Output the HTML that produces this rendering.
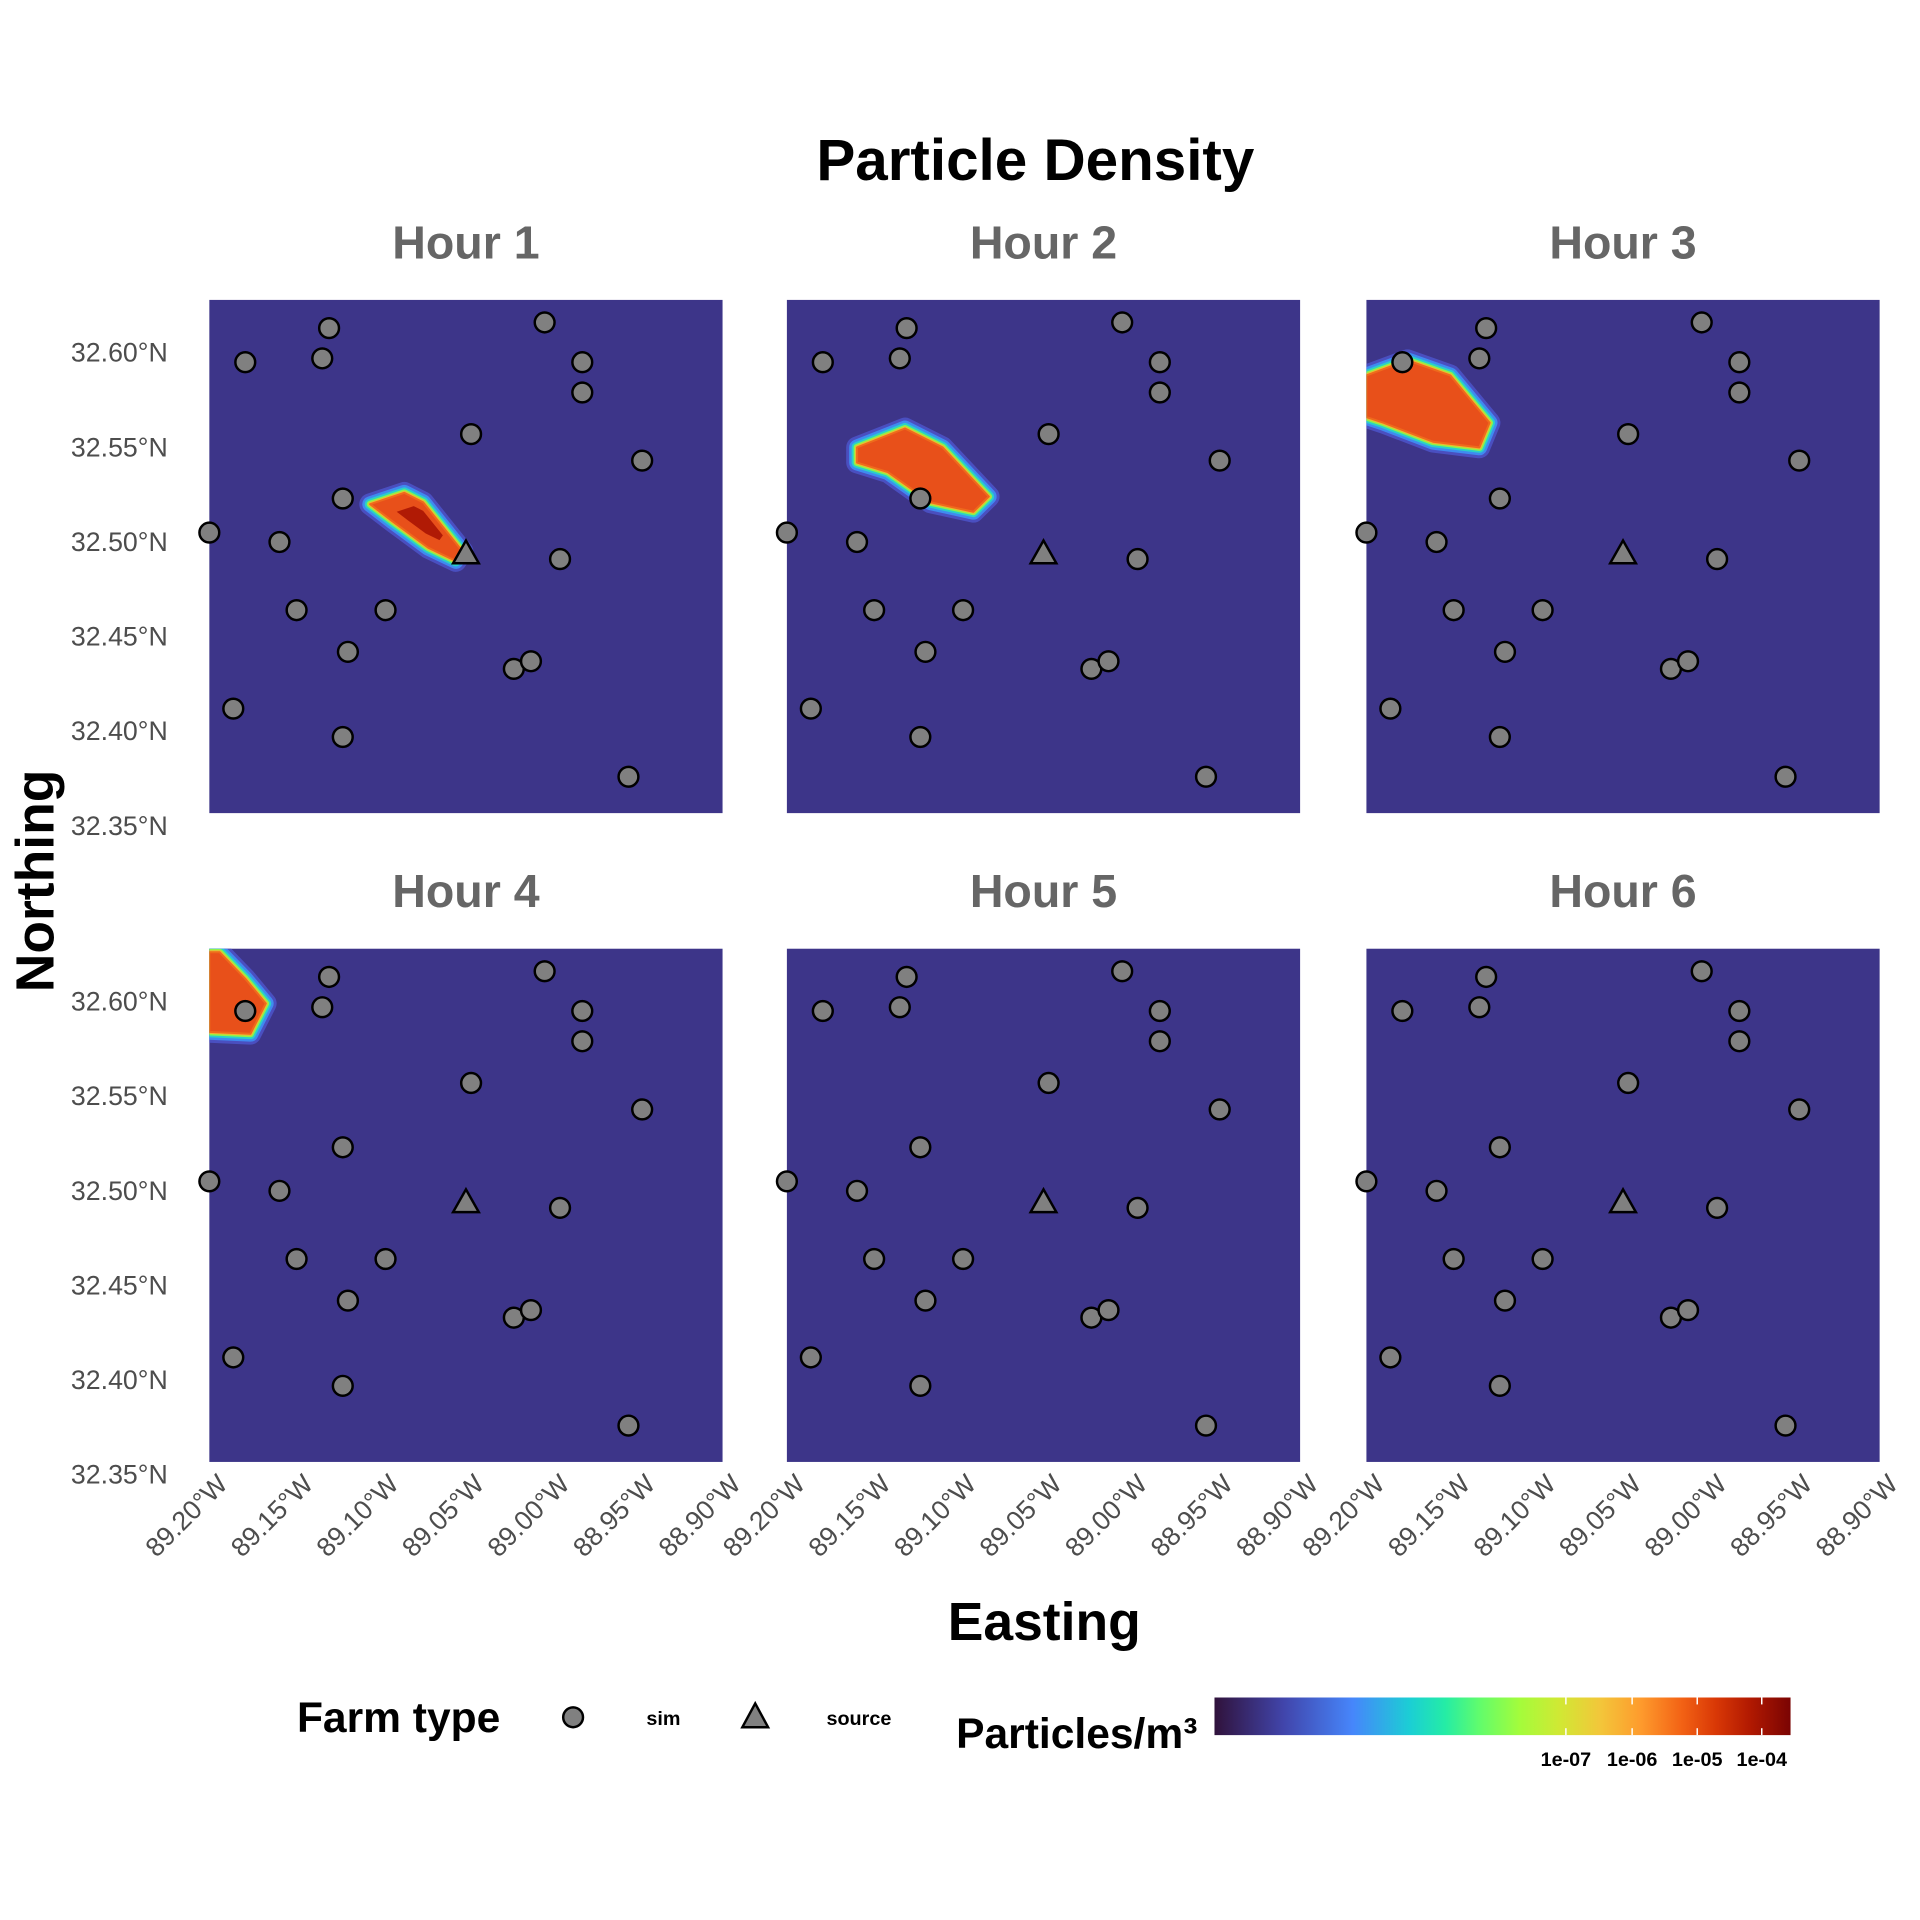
<!DOCTYPE html>
<html><head><meta charset="utf-8">
<style>
html,body{margin:0;padding:0;background:#fff;}
svg{display:block;font-family:"Liberation Sans",sans-serif;}
</style></head>
<body>
<svg id="chart" width="1920" height="1920" viewBox="0 0 1920 1920">
<defs>
<linearGradient id="turbo" x1="0" x2="1" y1="0" y2="0">
<stop offset="0" stop-color="#30123b"/><stop offset="0.12" stop-color="#4145ab"/>
<stop offset="0.24" stop-color="#4686fb"/><stop offset="0.34" stop-color="#1bcfd4"/>
<stop offset="0.40" stop-color="#24eca6"/><stop offset="0.46" stop-color="#61fc6c"/>
<stop offset="0.53" stop-color="#a4fc3b"/><stop offset="0.60" stop-color="#d1e834"/>
<stop offset="0.67" stop-color="#f3c63a"/><stop offset="0.74" stop-color="#fe9b2d"/>
<stop offset="0.81" stop-color="#f36315"/><stop offset="0.87" stop-color="#d93806"/>
<stop offset="0.93" stop-color="#b11901"/><stop offset="1" stop-color="#7a0403"/>
</linearGradient>
</defs>
<g transform="scale(0.9898)">
<text x="1046" y="182" text-anchor="middle" font-size="59" font-weight="bold" fill="#000">Particle Density</text>
<text x="1055" y="1657" text-anchor="middle" font-size="54" font-weight="bold" fill="#000">Easting</text>
<text transform="translate(54,890) rotate(-90)" text-anchor="middle" font-size="54" font-weight="bold" fill="#000">Northing</text>
<g id="panels"></g>
<g>
<text x="300" y="1750" font-size="43" font-weight="bold" fill="#000">Farm type</text>
<circle cx="579" cy="1735" r="10" fill="#808080" stroke="#000" stroke-width="2.5"/>
<text x="653" y="1743" font-size="20" font-weight="bold" fill="#000">sim</text>
<path d="M763,1721 L776,1745 L750,1745 Z" fill="#808080" stroke="#000" stroke-width="2.5"/>
<text x="835" y="1743" font-size="20" font-weight="bold" fill="#000">source</text>
</g>
<g>
<text x="966" y="1766" font-size="43" font-weight="bold" fill="#000">Particles/m³</text>
<rect x="1227" y="1715" width="582" height="38" fill="url(#turbo)"/>
<g id="cbticks"></g>
</g>
</g>
</svg>
<script>
const NS='http://www.w3.org/2000/svg';
const lonTicks=[-89.20,-89.15,-89.10,-89.05,-89.00,-88.95,-88.90];
const lonTickLabels=['89.20°W','89.15°W','89.10°W','89.05°W','89.00°W','88.95°W','88.90°W'];
const latTicks=[32.60,32.55,32.50,32.45,32.40,32.35];
const latTickLabels=['32.60°N','32.55°N','32.50°N','32.45°N','32.40°N','32.35°N'];
const hours=['Hour 1','Hour 2','Hour 3','Hour 4','Hour 5','Hour 6'];
const farmLon=[-89.179,-89.134,-89.130,-89.004,-88.982,-88.982,-89.047,-88.947,-89.122,-89.200,-89.159,-88.995,-89.149,-89.097,-89.119,-89.022,-89.012,-89.186,-89.122,-88.955];
const farmLat=[32.595,32.597,32.613,32.616,32.595,32.579,32.557,32.543,32.523,32.505,32.500,32.491,32.464,32.464,32.442,32.433,32.437,32.412,32.397,32.376];
const sourceLon=[-89.050];
const sourceLat=[32.494];
const plumeLon=[
[-89.106,-89.086,-89.075,-89.052,-89.056,-89.072,-89.093],
[-89.159,-89.131,-89.109,-89.082,-89.091,-89.116,-89.141,-89.159],
[-89.200,-89.176,-89.151,-89.128,-89.134,-89.161,-89.190,-89.200],
[-89.200,-89.194,-89.179,-89.167,-89.176,-89.200],[],[]];
const plumeLat=[
[32.520,32.526,32.521,32.495,32.490,32.497,32.511],
[32.550,32.560,32.550,32.524,32.516,32.521,32.537,32.542],
[32.588,32.596,32.588,32.563,32.550,32.553,32.563,32.566],
[32.626,32.626,32.612,32.599,32.583,32.584],[],[]];
const cbTickLabels=['1e-07','1e-06','1e-05','1e-04'];
const cbTickPos=[0.61,0.725,0.838,0.95];

const lonMin=-89.20,lonMax=-88.90,latTop=32.6279,latBot=32.3568;
const PW=518.5,PH=518.5;
const colX=[211.5,795,1380.5],rowY=[303,958.5];
function sx(lon,x0){return x0+(lon-lonMin)/(lonMax-lonMin)*PW;}
function sy(lat,y0){return y0+(latTop-lat)/(latTop-latBot)*PH;}
function mk(tag,attrs,parent){const e=document.createElementNS(NS,tag);for(const k in attrs)e.setAttribute(k,attrs[k]);parent.appendChild(e);return e;}
const root=document.getElementById('panels');
hours.forEach((h,i)=>{
  const c=i%3,r=Math.floor(i/3),x0=colX[c],y0=rowY[r];
  const g=mk('g',{},root);
  
  
  const t=mk('text',{x:x0+PW/2,y:y0-42,'text-anchor':'middle','font-size':47,'font-weight':'bold',fill:'#666'},g);
  t.textContent=h;
  
  
  const cid='clip'+i;
  const cp=mk('clipPath',{id:cid},g);mk('rect',{x:x0,y:y0,width:PW,height:PH},cp);
  const bg=mk('rect',{x:x0,y:y0,width:PW,height:PH,fill:'#3d3589'},g);
  
  
  if(plumeLon[i].length){
    const pts=plumeLon[i].map((lo,j)=>sx(lo,x0).toFixed(1)+','+sy(plumeLat[i][j],y0).toFixed(1)).join(' ');
    const pg=mk('g',{'clip-path':'url(#'+cid+')'},g);
    
    
    [['#4a4fc0',22],['#3f8bf0',16],['#2ad0c8',11],['#8ef24a',7],['#f0b830',4]].forEach(s=>{
      mk('polygon',{points:pts,fill:s[0],stroke:s[0],'stroke-width':s[1],'stroke-linejoin':'round'},pg);
    });
    mk('polygon',{points:pts,fill:'#e8501a',stroke:'#ee6a1c','stroke-width':2,'stroke-linejoin':'round'},pg);
    if(i===0){
      mk('polygon',{points:pts,fill:'#b01a05',stroke:'none',transform:'translate('+(sx(-89.075,x0))+','+(sy(32.512,y0))+') scale(0.5) translate('+(-sx(-89.075,x0))+','+(-sy(32.512,y0))+')'},pg);
    }
  }
  farmLon.forEach((lo,j)=>{
    const p=mk('circle',{cx:sx(lo,x0),cy:sy(farmLat[j],y0),r:10,fill:'#808080',stroke:'#000','stroke-width':2.5},g);
    
    
  });
  sourceLon.forEach((lo,j)=>{
    const cx=sx(lo,x0),cy=sy(sourceLat[j],y0);
    const p=mk('path',{d:`M${cx},${cy-13} L${cx+13},${cy+10} L${cx-13},${cy+10} Z`,fill:'#808080',stroke:'#000','stroke-width':2.5},g);
    
    
  });
  if(c===0){
    latTicks.forEach((la,j)=>{
      const tt=mk('text',{x:x0-42,y:sy(la,y0)+9,'text-anchor':'end','font-size':27,fill:'#4d4d4d'},g);
      tt.textContent=latTickLabels[j];
      
      
    });
  }
  if(r===1){
    lonTicks.forEach((lo,j)=>{
      const tx=sx(lo,x0)+20,ty=y0+PH+24;
      const tt=mk('text',{x:tx,y:ty,'text-anchor':'end','font-size':27,fill:'#4d4d4d',transform:`rotate(-45 ${tx} ${ty})`},g);
      tt.textContent=lonTickLabels[j];
      
      
    });
  }
});
const cb=document.getElementById('cbticks');
cbTickLabels.forEach((l,j)=>{
  const x=1227+cbTickPos[j]*582;
  const a=mk('line',{x1:x,x2:x,y1:1715,y2:1722,stroke:'#fff','stroke-width':1.5},cb);
  
  
  const b=mk('line',{x1:x,x2:x,y1:1746,y2:1753,stroke:'#fff','stroke-width':1.5},cb);
  
  
  const t=mk('text',{x:x,y:1784,'text-anchor':'middle','font-size':20,'font-weight':'bold',fill:'#000'},cb);
  t.textContent=l;
  
  
});
</script>
</body></html>
